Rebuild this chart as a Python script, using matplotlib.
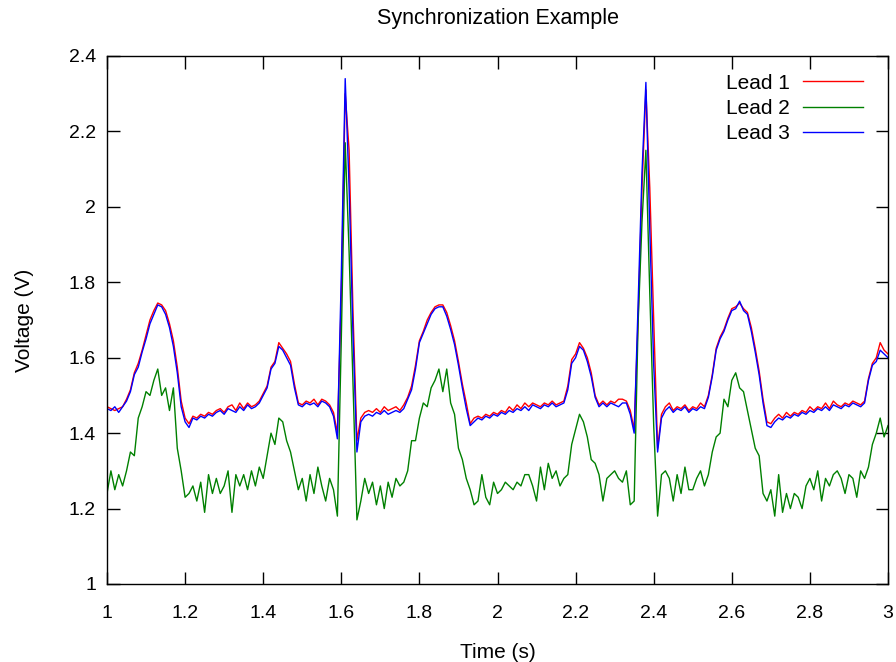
import numpy as np
import matplotlib
matplotlib.use("Agg")
import matplotlib.pyplot as plt
from matplotlib.ticker import FuncFormatter

plt.rcParams['font.family'] = ['Liberation Sans', 'DejaVu Sans']

t_start = 1.0
t_step = 0.01

lead1 = [
    1.470, 1.465, 1.460, 1.465, 1.470, 1.490, 1.515, 1.560, 1.585, 1.620,
    1.660, 1.700, 1.725, 1.745, 1.740, 1.725, 1.690, 1.645, 1.575, 1.485,
    1.440, 1.425, 1.445, 1.440, 1.450, 1.445, 1.455, 1.450, 1.460, 1.465,
    1.455, 1.470, 1.475, 1.460, 1.480, 1.465, 1.480, 1.470, 1.475, 1.485,
    1.505, 1.525, 1.575, 1.590, 1.640, 1.625, 1.610, 1.590, 1.530, 1.480,
    1.475, 1.485, 1.480, 1.490, 1.475, 1.490, 1.485, 1.475, 1.455, 1.400,
    1.760, 2.300, 2.150, 1.720, 1.380, 1.440, 1.455, 1.460, 1.455, 1.465,
    1.455, 1.470, 1.460, 1.465, 1.470, 1.460, 1.475, 1.495, 1.525, 1.580,
    1.645, 1.670, 1.700, 1.720, 1.735, 1.740, 1.740, 1.720, 1.685, 1.645,
    1.590, 1.530, 1.480, 1.425, 1.440, 1.445, 1.440, 1.450, 1.445, 1.455,
    1.450, 1.460, 1.455, 1.470, 1.460, 1.475, 1.465, 1.480, 1.470, 1.480,
    1.475, 1.470, 1.480, 1.475, 1.485, 1.475, 1.480, 1.485, 1.525, 1.595,
    1.610, 1.640, 1.625, 1.600, 1.560, 1.500, 1.475, 1.485, 1.475, 1.485,
    1.480, 1.490, 1.490, 1.485, 1.460, 1.410, 1.700, 2.050, 2.310, 2.050,
    1.700, 1.360, 1.450, 1.470, 1.480, 1.460, 1.470, 1.465, 1.475, 1.460,
    1.470, 1.465, 1.480, 1.470, 1.500, 1.555, 1.625, 1.655, 1.675, 1.705,
    1.730, 1.735, 1.745, 1.730, 1.720, 1.680, 1.625, 1.565, 1.490, 1.430,
    1.425, 1.440, 1.450, 1.440, 1.455, 1.445, 1.455, 1.450, 1.460, 1.455,
    1.470, 1.460, 1.470, 1.465, 1.480, 1.465, 1.485, 1.475, 1.470, 1.480,
    1.475, 1.485, 1.480, 1.475, 1.485, 1.545, 1.585, 1.600, 1.640, 1.620,
    1.610,
]

lead2 = [
    1.24, 1.30, 1.25, 1.29, 1.26, 1.30, 1.35, 1.34, 1.44, 1.47,
    1.51, 1.50, 1.54, 1.57, 1.50, 1.52, 1.46, 1.52, 1.36, 1.30,
    1.23, 1.24, 1.26, 1.22, 1.27, 1.19, 1.29, 1.24, 1.28, 1.24,
    1.26, 1.30, 1.19, 1.29, 1.26, 1.29, 1.25, 1.30, 1.26, 1.31,
    1.28, 1.34, 1.40, 1.37, 1.44, 1.43, 1.38, 1.35, 1.30, 1.25,
    1.28, 1.22, 1.29, 1.24, 1.31, 1.26, 1.22, 1.28, 1.25, 1.18,
    1.65, 2.17, 1.88, 1.53, 1.17, 1.22, 1.28, 1.24, 1.27, 1.21,
    1.26, 1.20, 1.27, 1.23, 1.28, 1.26, 1.27, 1.30, 1.38, 1.38,
    1.44, 1.48, 1.47, 1.52, 1.54, 1.57, 1.51, 1.57, 1.48, 1.45,
    1.36, 1.33, 1.28, 1.25, 1.21, 1.22, 1.29, 1.23, 1.21, 1.27,
    1.24, 1.25, 1.27, 1.26, 1.25, 1.27, 1.26, 1.29, 1.29, 1.26,
    1.22, 1.31, 1.25, 1.32, 1.28, 1.30, 1.26, 1.28, 1.29, 1.37,
    1.41, 1.45, 1.43, 1.39, 1.33, 1.32, 1.29, 1.22, 1.28, 1.29,
    1.30, 1.28, 1.27, 1.30, 1.21, 1.22, 1.69, 1.96, 2.15, 1.77,
    1.42, 1.18, 1.29, 1.30, 1.28, 1.22, 1.29, 1.24, 1.31, 1.25,
    1.25, 1.28, 1.30, 1.26, 1.29, 1.35, 1.39, 1.40, 1.49, 1.47,
    1.54, 1.56, 1.52, 1.51, 1.46, 1.41, 1.36, 1.34, 1.24, 1.22,
    1.25, 1.18, 1.29, 1.19, 1.24, 1.20, 1.24, 1.23, 1.20, 1.26,
    1.28, 1.25, 1.30, 1.22, 1.28, 1.26, 1.29, 1.30, 1.28, 1.24,
    1.29, 1.28, 1.23, 1.30, 1.28, 1.31, 1.37, 1.40, 1.44, 1.39,
    1.42,
]

lead3 = [
    1.465, 1.460, 1.470, 1.455, 1.470, 1.485, 1.510, 1.555, 1.575, 1.615,
    1.650, 1.690, 1.715, 1.740, 1.735, 1.715, 1.680, 1.630, 1.560, 1.470,
    1.430, 1.415, 1.440, 1.435, 1.445, 1.440, 1.450, 1.445, 1.455, 1.460,
    1.450, 1.465, 1.460, 1.455, 1.470, 1.460, 1.475, 1.465, 1.470, 1.480,
    1.500, 1.520, 1.570, 1.585, 1.630, 1.620, 1.600, 1.580, 1.520, 1.475,
    1.470, 1.480, 1.475, 1.480, 1.470, 1.485, 1.480, 1.470, 1.445, 1.385,
    1.820, 2.340, 2.050, 1.660, 1.350, 1.430, 1.445, 1.450, 1.445, 1.455,
    1.450, 1.460, 1.450, 1.455, 1.460, 1.455, 1.465, 1.490, 1.515, 1.570,
    1.640, 1.665, 1.690, 1.715, 1.730, 1.735, 1.735, 1.710, 1.675, 1.635,
    1.580, 1.520, 1.465, 1.420, 1.430, 1.440, 1.435, 1.445, 1.440, 1.450,
    1.445, 1.455, 1.450, 1.460, 1.455, 1.465, 1.460, 1.470, 1.460, 1.475,
    1.470, 1.465, 1.475, 1.470, 1.480, 1.470, 1.475, 1.480, 1.515, 1.585,
    1.600, 1.630, 1.620, 1.590, 1.550, 1.495, 1.470, 1.480, 1.470, 1.480,
    1.475, 1.470, 1.480, 1.480, 1.450, 1.400, 1.740, 2.090, 2.330, 1.940,
    1.580, 1.350, 1.440, 1.460, 1.470, 1.455, 1.465, 1.460, 1.470, 1.455,
    1.465, 1.460, 1.470, 1.465, 1.495, 1.550, 1.620, 1.650, 1.670, 1.700,
    1.725, 1.730, 1.750, 1.725, 1.715, 1.670, 1.615, 1.555, 1.480, 1.420,
    1.415, 1.430, 1.440, 1.435, 1.445, 1.440, 1.450, 1.445, 1.455, 1.450,
    1.460, 1.455, 1.465, 1.460, 1.470, 1.460, 1.475, 1.470, 1.465, 1.475,
    1.470, 1.480, 1.475, 1.470, 1.480, 1.540, 1.580, 1.590, 1.620, 1.610,
    1.600,
]

series_names = ["Lead 1", "Lead 2", "Lead 3"]
series_colors = ["#ff0000", "#008000", "#0000ff"]
x_ticks = [1, 1.2, 1.4, 1.6, 1.8, 2, 2.2, 2.4, 2.6, 2.8, 3]
y_ticks = [1, 1.2, 1.4, 1.6, 1.8, 2, 2.2, 2.4]

n = len(lead1)
t = t_start + t_step * np.arange(n)

W, H = 896, 662
fig = plt.figure(figsize=(W / 100, H / 100), dpi=100)
ax = fig.add_axes([107 / W, (H - 584) / H, (888 - 107) / W, (584 - 56) / H])

for vals, name, col in zip([lead1, lead2, lead3], series_names, series_colors):
    ax.plot(t[:len(vals)], vals, color=col, lw=1.0, label=name)

ax.set_xlim(1, 3)
ax.set_ylim(1, 2.4)
ax.set_xticks(x_ticks)
ax.set_yticks(y_ticks)
fmt = FuncFormatter(lambda v, p: ('%g' % round(v, 3)))
ax.xaxis.set_major_formatter(fmt)
ax.yaxis.set_major_formatter(fmt)
ax.tick_params(direction='in', length=9, width=1, top=True, right=True,
               labelsize=14, colors='black')
ax.tick_params(axis='x', pad=15)
ax.tick_params(axis='y', pad=8)
for s in ax.spines.values():
    s.set_linewidth(1.0)

ax.set_title("Synchronization Example", fontsize=15.5, pad=23)
ax.set_xlabel("Time (s)", fontsize=15, labelpad=15)
ax.set_ylabel("Voltage (V)", fontsize=15, labelpad=25)

leg = ax.legend(loc='upper right', frameon=False, markerfirst=False,
                fontsize=15, handlelength=2.9, handletextpad=0.65,
                labelspacing=0.3, borderaxespad=0.3,
                bbox_to_anchor=(1 - 10 / 781, 1 - 3 / 528))
for txt in leg.get_texts():
    txt.set_ha('right')

fig.savefig("out.png", dpi=100)
